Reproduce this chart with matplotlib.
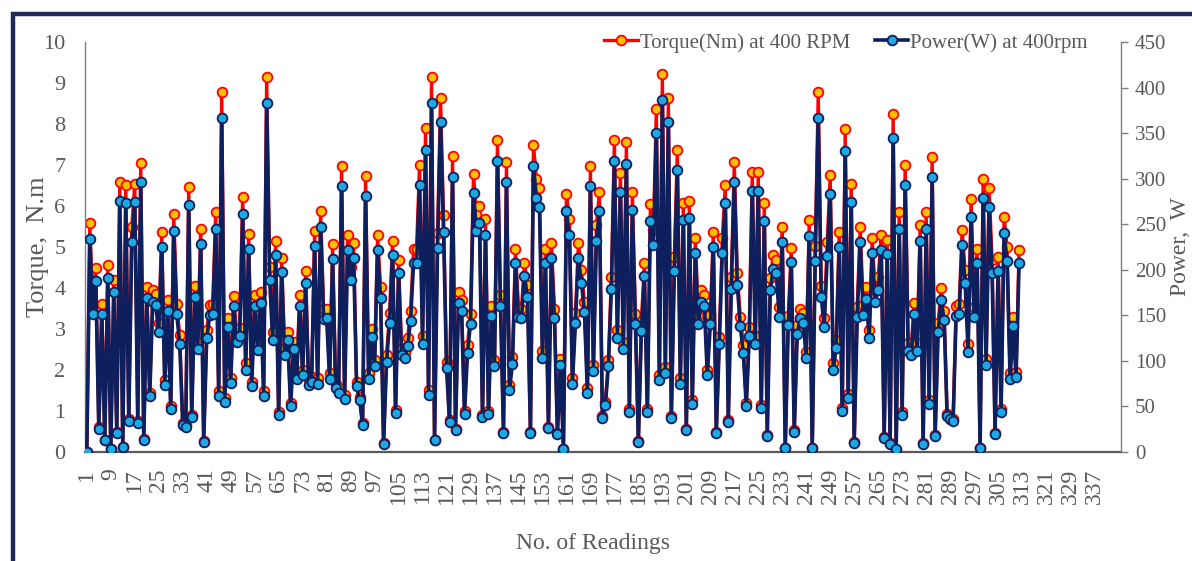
import matplotlib
matplotlib.use("Agg")
import matplotlib.pyplot as plt
from matplotlib.patches import Rectangle

readings = list(range(1, 313))

torque_nm = [
    0.0, 5.59, 3.6, 4.49, 0.6, 3.61, 0.3, 4.56, 0.08, 4.2,
    0.5, 6.59, 0.13, 6.51, 0.8, 5.48, 6.54, 0.76, 7.06, 0.31,
    4.03, 1.45, 3.95, 3.85, 3.15, 5.37, 1.75, 3.7, 1.13, 5.8,
    3.6, 2.85, 0.71, 0.65, 6.47, 0.91, 4.05, 2.69, 5.45, 0.27,
    2.98, 3.58, 3.6, 5.86, 1.49, 8.77, 1.32, 3.28, 1.81, 3.81,
    2.9, 3.02, 6.23, 2.16, 5.32, 1.71, 3.83, 2.67, 3.91, 1.49,
    9.15, 4.52, 2.93, 5.15, 0.97, 4.72, 2.53, 2.93, 1.2, 2.69,
    1.9, 3.83, 2.0, 4.42, 1.76, 1.83, 5.39, 1.8, 5.89, 3.48,
    3.5, 1.92, 5.07, 1.67, 1.55, 6.98, 1.39, 5.29, 4.52, 5.09,
    1.71, 1.35, 0.71, 6.72, 1.92, 3.0, 2.24, 5.29, 4.03, 0.21,
    2.37, 3.38, 5.15, 1.02, 4.68, 2.53, 2.45, 2.77, 3.44, 4.94,
    4.94, 7.0, 2.83, 7.91, 1.51, 9.15, 0.3, 5.35, 8.63, 5.78,
    2.2, 0.79, 7.22, 0.57, 3.91, 3.71, 1.0, 2.61, 3.37, 6.78,
    5.8, 6.0, 0.9, 5.68, 1.01, 3.56, 2.24, 7.61, 3.83, 0.49,
    7.07, 1.63, 2.32, 4.94, 3.54, 3.5, 4.6, 4.07, 0.49, 7.49,
    6.67, 6.43, 2.46, 4.94, 0.62, 5.09, 3.5, 0.47, 2.28, 0.07,
    6.3, 5.68, 1.8, 3.38, 5.09, 4.44, 3.67, 1.56, 6.98, 2.12,
    5.54, 6.33, 0.88, 1.23, 2.24, 4.28, 7.61, 2.98, 6.8, 2.69,
    7.55, 1.05, 6.35, 3.37, 0.27, 3.18, 4.6, 1.05, 6.05, 5.41,
    8.36, 1.88, 9.22, 2.08, 8.63, 0.88, 4.76, 7.37, 1.8, 6.08,
    0.57, 6.13, 1.27, 5.21, 3.34, 3.95, 3.83, 2.0, 3.34, 5.37,
    0.49, 2.81, 5.21, 6.51, 0.79, 4.28, 7.07, 4.36, 3.3, 2.61,
    1.19, 3.04, 6.84, 2.83, 6.84, 1.15, 6.07, 0.42, 4.24, 4.8,
    4.68, 3.54, 5.5, 0.1, 3.32, 4.97, 0.53, 3.1, 3.5, 3.38,
    2.45, 5.66, 0.1, 5.02, 8.77, 4.05, 3.26, 5.13, 6.76, 2.16,
    2.73, 5.37, 1.07, 7.88, 1.41, 6.54, 0.24, 3.54, 5.5, 3.59,
    4.02, 2.98, 5.21, 3.95, 4.26, 5.29, 0.37, 5.17, 0.21, 8.24,
    0.06, 5.86, 0.98, 7.0, 2.65, 2.54, 3.64, 2.65, 5.54, 0.21,
    5.86, 1.27, 7.2, 0.42, 3.15, 3.99, 3.45, 0.92, 0.85, 0.8,
    3.56, 3.61, 5.41, 4.44, 2.63, 6.16, 3.54, 4.94, 0.1, 6.65,
    2.28, 6.43, 4.68, 0.47, 4.76, 1.05, 5.74, 5.01, 1.92, 3.3,
    1.96, 4.93,
]

power_w = [
    0, 234, 151, 188, 25, 151, 13, 191, 3, 176,
    21, 276, 5, 273, 34, 230, 274, 32, 296, 13,
    169, 61, 165, 161, 132, 225, 73, 155, 47, 243,
    151, 119, 30, 27, 271, 38, 170, 113, 228, 11,
    125, 150, 151, 245, 62, 367, 55, 137, 76, 160,
    121, 127, 261, 90, 223, 72, 160, 112, 164, 62,
    383, 189, 123, 216, 41, 198, 106, 123, 50, 113,
    80, 160, 84, 185, 74, 77, 226, 75, 247, 146,
    147, 80, 212, 70, 65, 292, 58, 222, 189, 213,
    72, 57, 30, 281, 80, 126, 94, 222, 169, 9,
    99, 142, 216, 43, 196, 106, 103, 116, 144, 207,
    207, 293, 119, 331, 63, 383, 13, 224, 362, 242,
    92, 33, 302, 24, 164, 155, 42, 109, 141, 284,
    243, 251, 38, 238, 42, 149, 94, 319, 160, 21,
    296, 68, 97, 207, 148, 147, 193, 170, 21, 314,
    279, 269, 103, 207, 26, 213, 147, 20, 96, 3,
    264, 238, 75, 142, 213, 186, 154, 65, 292, 89,
    232, 265, 37, 52, 94, 179, 319, 125, 285, 113,
    316, 44, 266, 141, 11, 133, 193, 44, 253, 227,
    350, 79, 386, 87, 362, 37, 199, 309, 75, 255,
    24, 257, 53, 218, 140, 165, 160, 84, 140, 225,
    21, 118, 218, 273, 33, 179, 296, 183, 138, 109,
    50, 127, 287, 119, 287, 48, 254, 18, 178, 201,
    196, 148, 230, 4, 139, 208, 22, 130, 147, 142,
    103, 237, 4, 210, 367, 170, 137, 215, 283, 90,
    114, 225, 45, 330, 59, 274, 10, 148, 230, 150,
    168, 125, 218, 165, 178, 222, 15, 217, 9, 345,
    3, 245, 41, 293, 111, 106, 152, 111, 232, 9,
    245, 53, 302, 18, 132, 167, 145, 39, 36, 34,
    149, 151, 227, 186, 110, 258, 148, 207, 4, 279,
    96, 269, 196, 20, 199, 44, 240, 210, 80, 138,
    82, 207,
]

xtick_labels = [str(v) for v in range(1, 338, 8)]
legend_labels = ["Torque(Nm) at 400 RPM", "Power(W) at 400rpm"]

SERIF = ["Liberation Serif", "DejaVu Serif"]
TXT = "#595959"
W, H = 1192, 561

fig = plt.figure(figsize=(11.92, 5.61), dpi=100)
fig.patch.set_facecolor("white")

# outer navy frame (top and left edges visible, as in the cropped original)
fig.patches.append(Rectangle((13/W, -0.05), 1.2, 1.05 - 14/H,
                             transform=fig.transFigure, fill=False,
                             edgecolor="#1F2A5C", linewidth=3.2, zorder=0))

ax = fig.add_axes([85/W, 1 - 452/H, (1121-85)/W, (452-42)/H])
ax2 = ax.twinx()

ax.plot(readings, torque_nm, color="#FF0000", linewidth=2.4,
        marker="o", markersize=7, markerfacecolor="#FFC000",
        markeredgecolor="#FF0000", markeredgewidth=1.3,
        label=legend_labels[0])
ax2.plot(readings, power_w, color="#0D1F5C", linewidth=2.6,
         marker="o", markersize=7, markerfacecolor="#1CA8E0",
         markeredgecolor="#0D1F5C", markeredgewidth=1.3,
         label=legend_labels[1])

ax.set_xlim(0.4, 346)
ax.set_ylim(0, 10)
ax2.set_ylim(0, 450)

ax.set_xticks(list(range(1, 338, 8)))
ax.set_xticklabels(xtick_labels, rotation=90, fontfamily=SERIF,
                   fontsize=17, color=TXT)
ax.set_yticks(range(0, 11))
ax.set_yticklabels([str(v) for v in range(0, 11)], fontfamily=SERIF,
                   fontsize=16, color=TXT)
ax2.set_yticks(range(0, 451, 50))
ax2.set_yticklabels([str(v) for v in range(0, 451, 50)], fontfamily=SERIF,
                    fontsize=15, color=TXT)

ax.tick_params(axis="x", length=0, pad=12)
ax.tick_params(axis="y", length=0, pad=14)
ax2.tick_params(axis="y", length=5, width=1, color="#7F7F7F", pad=5)

for a in (ax, ax2):
    a.spines["top"].set_visible(False)
ax.spines["right"].set_visible(False)
ax2.spines["left"].set_visible(False)
ax2.spines["bottom"].set_visible(False)
ax.spines["left"].set_color("#7F7F7F")
ax.spines["left"].set_linewidth(1.0)
ax.spines["bottom"].set_color("#595959")
ax.spines["bottom"].set_linewidth(1.6)
ax2.spines["right"].set_color("#7F7F7F")
ax2.spines["right"].set_linewidth(1.0)

ax.set_xlabel("No. of Readings", fontfamily=SERIF, fontsize=17, color=TXT)
ax.xaxis.set_label_coords(0.49, -(543 - 452) / (452 - 42), transform=ax.transAxes)
ax.xaxis.label.set_va("center")

ax.set_ylabel("Torque,  N.m", fontfamily=SERIF, fontsize=19, color=TXT)
ax.yaxis.set_label_coords((38 - 85) / (1121 - 85), 0.5)
ax.yaxis.label.set_va("center")

ax2.set_ylabel("Power,  W", fontfamily=SERIF, fontsize=17, color=TXT)
ax2.yaxis.set_label_coords((1180 - 85) / (1121 - 85), 0.5)
ax2.yaxis.label.set_va("center")

h1, l1 = ax.get_legend_handles_labels()
h2, l2 = ax2.get_legend_handles_labels()
leg = fig.legend(h1 + h2, l1 + l2, loc="upper right",
                 bbox_to_anchor=(1088/W, 1 - 33/H), ncol=2,
                 frameon=False, borderpad=0, borderaxespad=0,
                 prop={"family": SERIF, "size": 15}, handlelength=1.6,
                 handletextpad=0.1, columnspacing=1.2)
for t in leg.get_texts():
    t.set_color(TXT)

fig.savefig("out.png", dpi=100, facecolor="white")
